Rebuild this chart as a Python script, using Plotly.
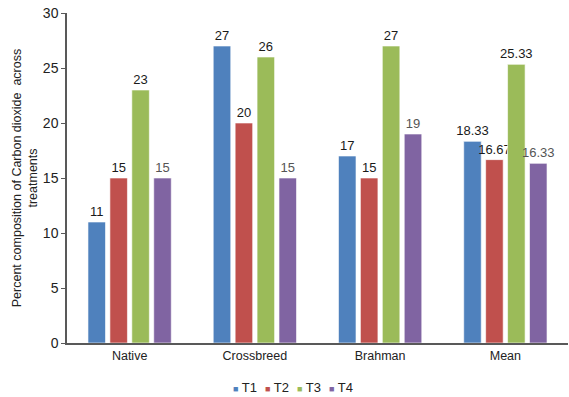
import plotly.graph_objects as go

categories = ["Native", "Crossbreed", "Brahman", "Mean"]
series_names = ["T1", "T2", "T3", "T4"]
t1 = [11, 27, 17, 18.33]
t2 = [15, 20, 15, 16.67]
t3 = [23, 26, 27, 25.33]
t4 = [15, 15, 19, 16.33]
series_values = [t1, t2, t3, t4]
colors = ["#4F81BD", "#C0504D", "#9BBB59", "#8064A2"]
label_colors = ["#1a1a1a", "#1a1a1a", "#1a1a1a", "#555555"]

fig = go.Figure()
for name, vals, c, lc in zip(series_names, series_values, colors, label_colors):
    fig.add_trace(go.Bar(
        x=categories, y=vals, name=name,
        marker=dict(color=c, line=dict(color="rgba(255,255,255,0.6)", width=1)),
        text=[f"{v:g}" for v in vals], textposition="outside",
        textfont=dict(family="Arial, Liberation Sans", size=13, color=lc),
        cliponaxis=False, showlegend=False,
    ))

# legend drawn as compact annotations (colored square + label)
legend_x0 = 0.327
legend_step = 0.064
for i, (name, c) in enumerate(zip(series_names, colors)):
    fig.add_annotation(
        xref="paper", yref="paper", x=legend_x0 + i * legend_step, y=-0.135,
        xanchor="left", yanchor="middle", showarrow=False,
        text=f"<span style='color:{c};font-size:9px'>■</span> {name}",
        font=dict(family="Arial, Liberation Sans", size=13, color="#222222"),
    )

fig.update_layout(
    width=569, height=397,
    margin=dict(l=67, r=1, t=13, b=54, autoexpand=False),
    paper_bgcolor="white", plot_bgcolor="white",
    barmode="group", bargap=0.3, bargroupgap=0.2,
    uniformtext=dict(minsize=13, mode="show"),
    font=dict(family="Arial, Liberation Sans", size=12, color="#222222"),
    showlegend=False,
    xaxis=dict(showline=True, linecolor="#595959", linewidth=1.5, ticks="",
               tickfont=dict(size=12.5, color="#222222")),
    yaxis=dict(range=[0, 30], dtick=5, showline=True, linecolor="#595959", linewidth=1.5,
               ticks="outside", ticklen=4, tickcolor="#595959", showgrid=False,
               zeroline=False, tickfont=dict(size=14, color="#222222"),
               title=dict(text="Percent composition of Carbon dioxide  across<br>treatments",
                          font=dict(size=12.5, color="#222222"), standoff=2)),
)

fig.write_html("out.html")
